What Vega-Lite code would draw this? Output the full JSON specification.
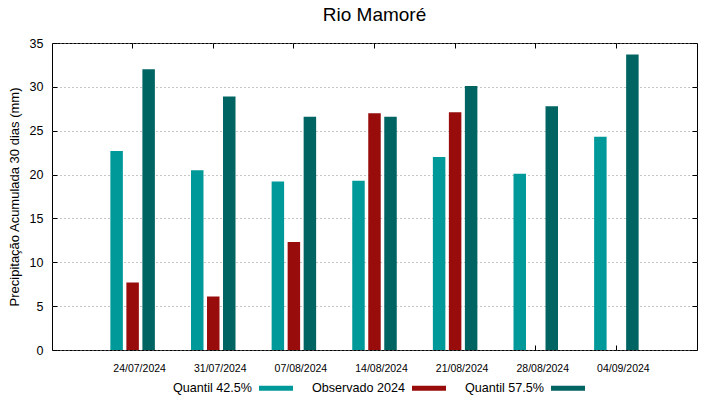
{
  "$schema": "https://vega.github.io/schema/vega-lite/v6.json",
  "autosize": "none",
  "width": 645,
  "height": 307,
  "padding": {"left": 52, "top": 43, "right": 22, "bottom": 49},
  "background": "white",
  "title": {"text": "Rio Mamoré", "font": "Liberation Sans", "fontSize": 19, "fontWeight": "normal", "color": "#000", "anchor": "middle", "offset": 12},
  "config": {
    "view": {"stroke": "#000", "strokeWidth": 1},
    "font": "Liberation Sans"
  },
  "data": {"values": [
    {"data": "24/07/2024", "serie": "Quantil 42.5%", "valor": 22.7},
    {"data": "24/07/2024", "serie": "Observado 2024", "valor": 7.7},
    {"data": "24/07/2024", "serie": "Quantil 57.5%", "valor": 32.0},
    {"data": "31/07/2024", "serie": "Quantil 42.5%", "valor": 20.5},
    {"data": "31/07/2024", "serie": "Observado 2024", "valor": 6.1},
    {"data": "31/07/2024", "serie": "Quantil 57.5%", "valor": 28.9},
    {"data": "07/08/2024", "serie": "Quantil 42.5%", "valor": 19.2},
    {"data": "07/08/2024", "serie": "Observado 2024", "valor": 12.3},
    {"data": "07/08/2024", "serie": "Quantil 57.5%", "valor": 26.6},
    {"data": "14/08/2024", "serie": "Quantil 42.5%", "valor": 19.3},
    {"data": "14/08/2024", "serie": "Observado 2024", "valor": 27.0},
    {"data": "14/08/2024", "serie": "Quantil 57.5%", "valor": 26.6},
    {"data": "21/08/2024", "serie": "Quantil 42.5%", "valor": 22.0},
    {"data": "21/08/2024", "serie": "Observado 2024", "valor": 27.1},
    {"data": "21/08/2024", "serie": "Quantil 57.5%", "valor": 30.1},
    {"data": "28/08/2024", "serie": "Quantil 42.5%", "valor": 20.1},
    {"data": "28/08/2024", "serie": "Quantil 57.5%", "valor": 27.8},
    {"data": "04/09/2024", "serie": "Quantil 42.5%", "valor": 24.3},
    {"data": "04/09/2024", "serie": "Quantil 57.5%", "valor": 33.7}
  ]},
  "resolve": {"axis": {"x": "independent", "y": "independent"}},
  "layer": [
    {
      "mark": {"type": "bar"},
      "encoding": {
        "x": {
          "field": "data", "type": "nominal", "sort": null,
          "scale": {"paddingInner": 0.448, "paddingOuter": 0.724},
          "axis": {"title": null, "labelAngle": 0, "labelFontSize": 10.5, "labelColor": "#000", "labelOffset": 7, "labelPadding": 18, "tickSize": -5, "tickColor": "#000", "domain": false, "orient": "bottom"}
        },
        "xOffset": {
          "field": "serie", "type": "nominal",
          "sort": ["Quantil 42.5%", "Observado 2024", "Quantil 57.5%"],
          "scale": {"paddingInner": 0.22, "paddingOuter": 0}
        },
        "y": {
          "field": "valor", "type": "quantitative",
          "scale": {"domain": [0, 35], "nice": false},
          "axis": {"title": "Precipitação Acumulada 30 dias (mm)", "titleFontSize": 13, "titleFontWeight": "normal", "titleColor": "#000", "titlePadding": 8,
                   "values": [0, 5, 10, 15, 20, 25, 30, 35], "labelFontSize": 12.5, "labelColor": "#000", "labelPadding": 14,
                   "tickSize": -5, "tickColor": "#000", "domain": false,
                   "grid": true, "gridColor": "#8a8a8a", "gridDash": [1, 3], "gridWidth": 1, "orient": "left"}
        },
        "color": {
          "field": "serie", "type": "nominal",
          "scale": {"domain": ["Quantil 42.5%", "Observado 2024", "Quantil 57.5%"], "range": ["#009999", "#990c0c", "#006462"]},
          "legend": {
            "title": null, "orient": "none", "direction": "horizontal", "legendX": 207, "legendY": 328,
            "symbolType": "M-1,-0.15L1,-0.15L1,0.15L-1,0.15Z", "symbolSize": 1156, "symbolStrokeWidth": 0,
            "labelAlign": "right", "labelOffset": -41, "labelFontSize": 12.6, "labelColor": "#000",
            "columnPadding": 18, "padding": 0, "symbolOpacity": 1
          }
        }
      }
    },
    {
      "mark": {"type": "bar", "opacity": 0},
      "encoding": {
        "x": {
          "field": "data", "type": "nominal", "sort": null,
          "axis": {"title": null, "labels": false, "tickSize": -5, "tickColor": "#000", "domain": false, "grid": false, "orient": "top"}
        },
        "xOffset": {
          "field": "serie", "type": "nominal",
          "sort": ["Quantil 42.5%", "Observado 2024", "Quantil 57.5%"]
        },
        "y": {
          "field": "valor", "type": "quantitative",
          "axis": {"title": null, "labels": false, "values": [0, 5, 10, 15, 20, 25, 30, 35], "tickSize": -5, "tickColor": "#000", "domain": false, "grid": false, "orient": "right"}
        }
      }
    }
  ]
}
